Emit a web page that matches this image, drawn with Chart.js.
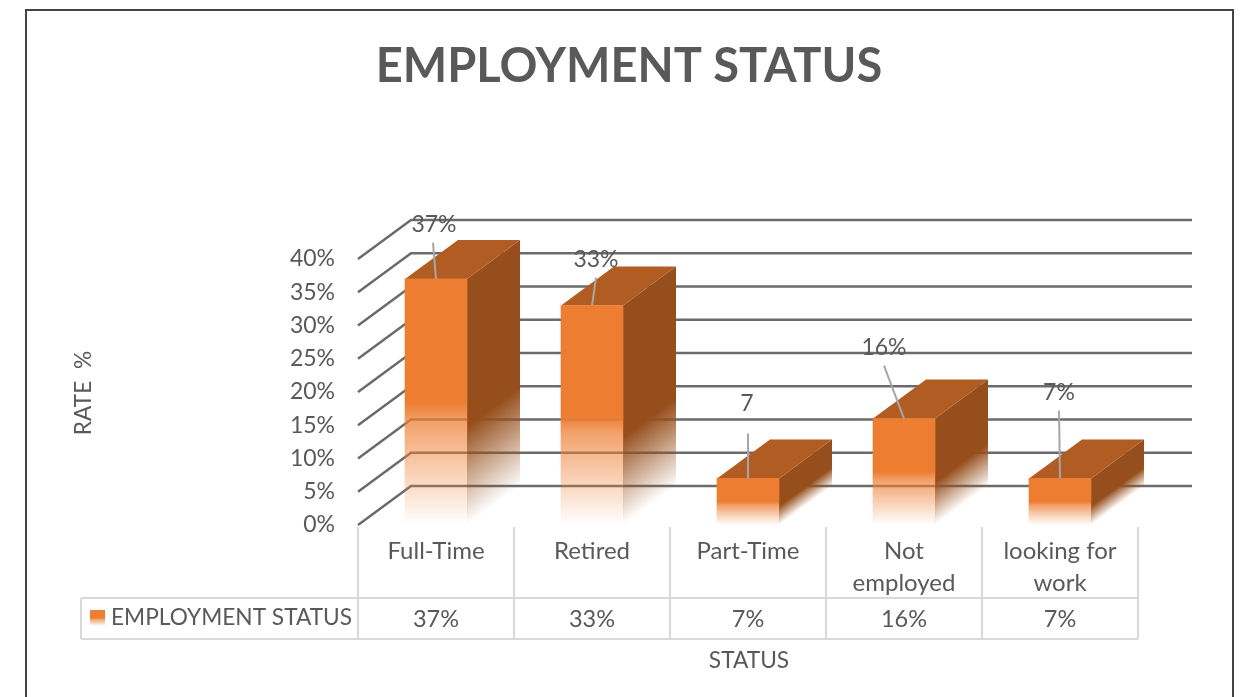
<!DOCTYPE html>
<html>
<head>
<meta charset="utf-8">
<title>Employment status</title>
<script src="https://cdn.jsdelivr.net/npm/chart.js@4"></script>
<style>
  html, body { margin: 0; padding: 0; background: #fff; overflow: hidden; }
  canvas { display: block; }
</style>
</head>
<body>
<canvas id="statusChart" width="1243" height="697"></canvas>
<script>
const categories = [['Full-Time'], ['Retired'], ['Part-Time'], ['Not', 'employed'], ['looking for', 'work']];
const rates = [37, 33, 7, 16, 7];
const barLabels = ['37%', '33%', '7', '16%', '7%'];
const tableValues = ['37%', '33%', '7%', '16%', '7%'];
const yTicks = [0, 5, 10, 15, 20, 25, 30, 35, 40];

const textColor = '#595959';
const font = 'Lato, Carlito, sans-serif';
const depthX = 53;
const depthY = 39;

// where each callout sits, relative to the top centre of its bar
const callouts = [
  { tx: -2, ty: -54, lx: -3, ly: -36 },
  { tx: 4, ty: -46, lx: 4, ly: -28 },
  { tx: -1, ty: -75, lx: 0, ly: -45 },
  { tx: -20, ty: -71, lx: -20, ly: -53 },
  { tx: -1, ty: -86, lx: -1, ly: -68 }
];

function fade(c, top, bottom, rgb) {
  const g = c.createLinearGradient(0, top, 0, bottom);
  g.addColorStop(0, `rgba(${rgb},1)`);
  g.addColorStop(0.5, `rgba(${rgb},1)`);
  g.addColorStop(0.58, `rgba(${rgb},0.72)`);
  g.addColorStop(0.75, `rgba(${rgb},0.42)`);
  g.addColorStop(1, `rgba(${rgb},0)`);
  return g;
}

// the side faces stay solid for longer than the front
function sideFade(c, top, bottom, rgb) {
  const g = c.createLinearGradient(0, top, 0, bottom);
  g.addColorStop(0, `rgba(${rgb},1)`);
  g.addColorStop(0.6, `rgba(${rgb},1)`);
  g.addColorStop(1, `rgba(${rgb},0)`);
  return g;
}

const backdrop = {
  id: 'backdrop',
  beforeDatasetsDraw(chart) {
    const c = chart.ctx;
    const y = chart.scales.y;
    const area = chart.chartArea;
    c.save();
    // frame of the screenshot
    c.strokeStyle = '#444';
    c.lineWidth = 2;
    c.beginPath();
    c.moveTo(26, 700);
    c.lineTo(26, 10);
    c.lineTo(1233, 10);
    c.lineTo(1233, 700);
    c.stroke();

    // 3d walls
    c.strokeStyle = '#6b6b6b';
    c.lineWidth = 2.5;
    yTicks.forEach(v => {
      const py = y.getPixelForValue(v);
      c.beginPath();
      c.moveTo(area.left, py);
      c.lineTo(area.left + depthX, py - depthY);
      c.lineTo(1192, py - depthY);
      c.stroke();
    });

    // side and top of the bars
    chart.getDatasetMeta(0).data.forEach(bar => {
      const right = bar.x + bar.width / 2;
      const left = bar.x - bar.width / 2;
      const base = y.getPixelForValue(0);
      c.save();
      c.transform(1, -depthY / depthX, 0, 1, 0, depthY / depthX * right);
      c.fillStyle = sideFade(c, bar.y, base, '150,79,28');
      c.fillRect(right, bar.y, depthX, base - bar.y);
      c.restore();
      c.fillStyle = '#b05c22';
      c.beginPath();
      c.moveTo(left, bar.y);
      c.lineTo(left + depthX, bar.y - depthY);
      c.lineTo(right + depthX, bar.y - depthY);
      c.lineTo(right, bar.y);
      c.closePath();
      c.fill();
    });
    c.restore();
  },
  afterDraw(chart) {
    const c = chart.ctx;
    const x = chart.scales.x;
    const area = chart.chartArea;
    c.save();
    c.fillStyle = textColor;
    c.textAlign = 'center';
    c.textBaseline = 'middle';

    c.font = `bold 47px ${font}`;
    c.fillText('EMPLOYMENT STATUS', 629, 67);

    c.font = `22.7px ${font}`;
    c.fillText('STATUS', 749, 661);
    c.save();
    c.translate(84, 393);
    c.rotate(-Math.PI / 2);
    c.fillText('RATE  %', 0, 0);
    c.restore();

    // callouts
    chart.getDatasetMeta(0).data.forEach((bar, i) => {
      const p = callouts[i];
      c.strokeStyle = '#a6a6a6';
      c.lineWidth = 2;
      c.beginPath();
      c.moveTo(bar.x + p.lx, bar.y + p.ly);
      c.lineTo(bar.x, bar.y);
      c.stroke();
      c.fillStyle = textColor;
      c.font = `23px ${font}`;
      c.fillText(barLabels[i], bar.x + p.tx, bar.y + p.ty);
    });

    // data table under the axis
    const rowTop = 598;
    const rowBottom = 639;
    const step = x.getPixelForValue(1) - x.getPixelForValue(0);
    c.strokeStyle = '#d9d9d9';
    c.lineWidth = 2;
    c.beginPath();
    c.moveTo(81, rowTop);
    c.lineTo(area.right, rowTop);
    c.moveTo(81, rowBottom);
    c.lineTo(area.right, rowBottom);
    c.moveTo(81, rowTop);
    c.lineTo(81, rowBottom);
    for (let i = 0; i <= rates.length; i++) {
      const px = area.left + i * step;
      c.moveTo(px, 527);
      c.lineTo(px, rowBottom);
    }
    c.stroke();

    c.fillStyle = fade(c, 610, 626, '237,125,49');
    c.fillRect(90, 610, 15, 16);
    c.fillStyle = textColor;
    c.font = `22.7px ${font}`;
    c.textAlign = 'left';
    c.fillText('EMPLOYMENT STATUS', 111, 618);
    c.textAlign = 'center';
    c.font = `23.5px ${font}`;
    tableValues.forEach((v, i) => c.fillText(v, x.getPixelForValue(i), 619));
    c.restore();
  }
};

new Chart(document.getElementById('statusChart'), {
  type: 'bar',
  data: {
    labels: categories,
    datasets: [{
      label: 'EMPLOYMENT STATUS',
      data: rates,
      barThickness: 62,
      backgroundColor(ctx) {
        const chart = ctx.chart;
        if (!chart.chartArea || ctx.parsed == null) return '#ed7d31';
        const y = chart.scales.y;
        return fade(chart.ctx, y.getPixelForValue(ctx.parsed.y), y.getPixelForValue(0), '237,125,49');
      }
    }]
  },
  options: {
    responsive: false,
    animation: false,
    layout: { padding: { top: 259, right: 105 } },
    plugins: { legend: { display: false }, title: { display: false }, tooltip: { enabled: false } },
    scales: {
      x: {
        grid: { display: false },
        border: { display: false },
        afterFit(s) { s.height = 172; },
        ticks: { color: textColor, font: { family: font, size: 24, lineHeight: 1.3 }, padding: 3, maxRotation: 0, autoSkip: false }
      },
      y: {
        min: 0,
        max: 40,
        grid: { display: false },
        border: { display: false },
        afterBuildTicks(s) { s.ticks = yTicks.map(v => ({ value: v })); },
        afterFit(s) { s.width = 358; },
        ticks: { color: textColor, font: { family: font, size: 23 }, padding: 15, callback: v => v + '%' }
      }
    }
  },
  plugins: [backdrop]
});
</script>
</body>
</html>
